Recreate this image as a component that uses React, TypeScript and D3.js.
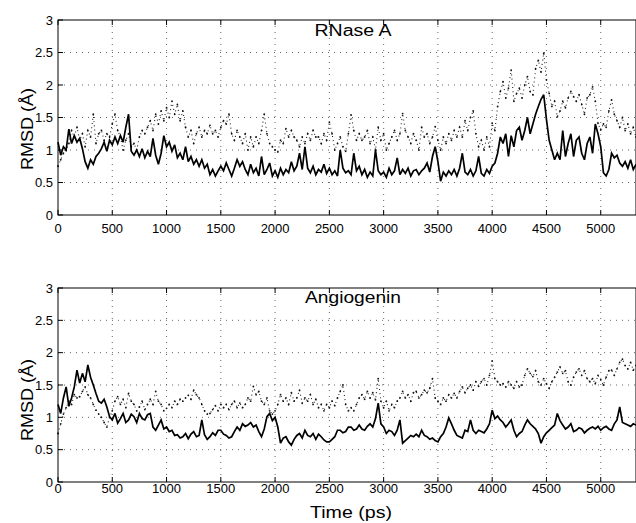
import React from "react";
import * as d3 from "d3";

// sampling step of the time series (ps)
const STEP = 25;

// RNase A – solid trace (t = 0, 25, 50, ...)
const rnaseSolid = [
  1.12, 0.92, 1.05, 1.0, 1.32, 1.1, 1.22, 1.12, 1.18, 1.02, 0.82, 0.72, 0.85, 0.78, 0.9, 0.95,
  1.02, 1.12, 0.98, 1.15, 1.08, 1.2, 1.1, 1.22, 1.12, 1.35, 1.55, 0.98, 0.92, 1.0, 0.9, 1.02,
  0.88, 0.98, 0.9, 1.18, 0.92, 0.78, 0.95, 1.22,
  1.05, 1.12, 0.98, 1.08, 0.88, 0.95, 0.85, 1.05, 0.82, 0.9, 0.78, 0.85, 0.75, 0.85, 0.72, 0.78,
  0.62, 0.7, 0.6, 0.68, 0.75, 0.68, 0.8, 0.7, 0.6, 0.72, 0.85, 0.75, 0.82, 0.7, 0.62, 0.78,
  0.65, 0.72, 0.6, 0.9, 0.62, 0.7, 0.8, 0.6,
  0.68, 0.58, 0.72, 0.62, 0.7, 0.65, 0.82, 0.68, 0.75, 0.95, 0.7, 1.05, 0.72, 0.65, 0.75, 0.62,
  0.7, 0.66, 0.78, 0.64, 0.72, 0.62, 0.68, 0.6, 1.0, 0.72, 0.65, 0.68, 0.62, 0.95, 0.68, 0.75,
  0.62, 0.7, 0.58, 0.66, 0.6, 1.0, 0.68, 0.62,
  0.66, 0.58, 0.72, 0.62, 0.68, 0.88, 0.62, 0.7, 0.64, 0.72, 0.6, 0.68, 0.7, 0.62, 0.68, 0.72,
  0.8, 0.66, 0.9, 1.05, 0.82, 0.52, 0.66, 0.6, 0.68, 0.62, 0.7, 0.6, 0.72, 0.95, 0.66, 0.62,
  0.7, 0.6, 0.68, 0.9, 0.64, 0.6, 0.7, 0.64,
  0.75, 0.8, 0.95, 1.2, 1.1, 1.25, 0.9, 1.22, 1.05, 1.3, 1.35, 1.15, 1.3, 1.5, 1.25, 1.4,
  1.55, 1.67, 1.78, 1.85, 1.47, 1.15, 1.0, 0.85, 0.95, 0.85, 1.3, 0.9, 1.1, 1.25, 0.9, 1.15,
  1.2, 0.95, 0.85, 1.1, 1.2, 0.95, 1.4, 1.25,
  1.05, 0.65, 0.6, 0.7, 0.95, 0.88, 0.92, 0.8, 0.75, 0.82, 0.72, 0.85, 0.7, 0.78,
];

// RNase A – dotted trace
const rnaseDotted = [
  0.75, 0.85, 0.95, 1.0, 1.1, 1.3, 1.2, 1.35, 1.15, 1.25, 1.05, 1.3, 1.2, 1.55, 1.1, 1.25,
  1.3, 1.15, 1.25, 1.2, 1.4, 1.55, 1.3, 1.2, 1.0, 1.15, 1.25, 1.05, 1.1, 1.0, 1.2, 1.3,
  1.25, 1.35, 1.45, 1.3, 1.55, 1.4, 1.6, 1.45,
  1.65, 1.5, 1.75, 1.55, 1.7, 1.45, 1.6, 1.35, 1.2, 1.3, 1.1, 1.25, 1.35, 1.2, 1.3, 1.25,
  1.38, 1.25, 1.3, 1.2, 1.35, 1.45, 1.4, 1.55, 1.25, 1.15, 1.3, 1.2, 1.1, 1.25, 1.0, 1.2,
  1.05, 1.2, 1.1, 1.3, 1.55, 1.25, 1.1, 1.05,
  1.0, 0.97, 1.15, 1.1, 1.33, 1.2, 1.3, 1.2, 1.15, 1.05, 1.2, 1.1, 1.25, 1.15, 1.3, 1.2,
  1.2, 1.1, 1.25, 1.15, 1.43, 1.25, 1.0, 1.1, 1.2, 1.05, 0.98, 1.25, 1.54, 1.3, 1.15, 1.25,
  1.15, 1.2, 1.3, 1.1, 1.2, 1.0, 1.35, 1.15,
  1.25, 1.0, 1.1, 1.2, 1.3, 1.15, 1.25, 1.56, 1.3, 1.2, 1.1, 1.25, 1.15, 1.0, 1.35, 1.2,
  1.25, 1.1, 1.2, 1.36, 1.15, 1.0, 1.2, 1.1, 1.25, 1.15, 1.3, 1.2, 1.35, 1.2, 1.45, 1.3,
  1.5, 1.6, 1.25, 1.05, 1.15, 1.0, 1.2, 1.05,
  1.41, 1.3, 1.67, 1.9, 2.05, 1.8, 1.95, 2.23, 1.75, 1.87, 1.95, 1.8, 2.0, 2.13, 1.9, 1.85,
  2.25, 2.38, 2.2, 2.49, 2.08, 1.87, 1.67, 1.75, 1.51, 1.6, 1.75, 1.65, 1.8, 1.9, 1.82, 1.75,
  1.85, 1.7, 1.55, 1.8, 1.85, 1.97, 1.75, 1.41,
  1.31, 1.4, 1.35, 1.6, 1.77, 1.55, 1.45, 1.35, 1.5, 1.3, 1.4, 1.25, 1.35, 1.2,
];

// Angiogenin – solid trace
const angSolid = [
  1.2, 1.06, 1.3, 1.47, 1.17, 1.3, 1.47, 1.73, 1.53, 1.68, 1.55, 1.81, 1.62, 1.5, 1.37, 1.25,
  1.22, 1.28, 1.16, 1.01, 0.96, 1.06, 0.91, 0.98, 1.06, 0.92, 0.96, 1.05, 1.01, 0.92, 1.06, 0.98,
  0.96, 1.04, 1.06, 0.85, 0.8, 0.88, 0.96, 0.82,
  0.85, 0.78, 0.8, 0.72, 0.73, 0.68, 0.7, 0.75, 0.67, 0.74, 0.78, 0.7, 0.72, 0.96, 0.73, 0.66,
  0.7, 0.76, 0.72, 0.8, 0.8, 0.74, 0.72, 0.68, 0.7, 0.78, 0.85, 0.8, 0.9, 0.86, 0.88, 0.92,
  0.85, 0.88, 0.78, 0.7, 0.82, 1.01, 1.06, 0.95,
  1.0, 0.85, 0.6, 0.68, 0.7, 0.62, 0.57, 0.66, 0.72, 0.75, 0.68, 0.8, 0.72, 0.7, 0.75, 0.66,
  0.74, 0.7, 0.65, 0.62, 0.62, 0.66, 0.7, 0.8, 0.8, 0.76, 0.78, 0.85, 0.85, 0.8, 0.82, 0.88,
  0.82, 0.8, 0.86, 0.9, 0.85, 0.98, 1.22, 0.9,
  0.85, 0.75, 0.8, 0.78, 0.72, 0.8, 0.96, 0.6, 0.64, 0.68, 0.72, 0.7, 0.74, 0.7, 0.8, 0.72,
  0.7, 0.66, 0.68, 0.64, 0.62, 0.7, 0.75, 0.85, 0.99, 0.9, 0.8, 0.72, 0.7, 0.68, 0.8, 0.78,
  0.96, 0.8, 0.75, 0.8, 0.78, 0.76, 0.82, 0.9,
  1.11, 0.98, 1.02, 0.96, 0.92, 0.85, 0.9, 0.96, 0.8, 0.7, 0.75, 0.78, 0.88, 0.96, 0.9, 0.86,
  0.82, 0.75, 0.6, 0.7, 0.76, 0.8, 0.84, 0.88, 1.06, 0.95, 0.88, 0.82, 0.85, 0.9, 0.78, 0.8,
  0.84, 0.82, 0.76, 0.8, 0.83, 0.85, 0.82, 0.86,
  0.8, 0.84, 0.86, 0.82, 0.8, 0.9, 0.96, 1.16, 0.92, 0.9, 0.88, 0.86, 0.9, 0.88,
];

// Angiogenin – dotted trace
const angDotted = [
  0.75, 0.9, 1.05, 1.15, 1.25, 1.2, 1.35, 1.3, 1.32, 1.4, 1.47, 1.35, 1.3, 1.2, 1.11, 1.05,
  1.0, 0.92, 0.85, 1.0, 1.1, 1.25, 1.32, 1.2, 1.28, 1.15, 1.37, 1.25, 1.2, 1.1, 1.16, 1.25,
  1.12, 1.2, 1.28, 1.2, 1.4, 1.25, 1.2, 1.1,
  1.14, 1.2, 1.15, 1.25, 1.2, 1.28, 1.25, 1.3, 1.34, 1.28, 1.42, 1.35, 1.3, 1.2, 1.1, 1.05,
  1.06, 1.12, 1.18, 1.1, 1.2, 1.15, 1.2, 1.12, 1.2, 1.25, 1.15, 1.22, 1.15, 1.2, 1.3, 1.25,
  1.48, 1.35, 1.4, 1.25, 1.2, 1.3, 1.1, 1.05,
  1.1, 1.2, 1.35, 1.25, 1.3, 1.2, 1.38, 1.25, 1.3, 1.42, 1.22, 1.3, 1.25, 1.35, 1.2, 1.28,
  1.15, 1.2, 1.1, 1.2, 1.15, 1.25, 1.18, 1.3, 1.4, 1.5, 1.2, 1.1, 1.15, 1.1, 1.2, 1.3,
  1.35, 1.28, 1.4, 1.3, 1.38, 1.27, 1.6, 1.25,
  1.15, 1.25, 1.1, 1.2, 1.15, 1.25, 1.3, 1.4, 1.3, 1.35, 1.25, 1.38, 1.4, 1.3, 1.35, 1.42,
  1.38, 1.45, 1.6, 1.3, 1.25, 1.2, 1.3, 1.25, 1.35, 1.3, 1.37, 1.3, 1.4, 1.47, 1.38, 1.45,
  1.5, 1.42, 1.55, 1.48, 1.55, 1.6, 1.5, 1.65,
  1.87, 1.6, 1.55, 1.5, 1.52, 1.47, 1.55, 1.5, 1.45, 1.55, 1.47, 1.5, 1.65, 1.75, 1.68, 1.63,
  1.72, 1.55, 1.5, 1.6, 1.52, 1.45, 1.55, 1.62, 1.7, 1.78, 1.68, 1.72, 1.55, 1.5, 1.62, 1.7,
  1.75, 1.65, 1.72, 1.6, 1.55, 1.6, 1.52, 1.65,
  1.58, 1.5, 1.62, 1.72, 1.73, 1.65, 1.75, 1.85, 1.9, 1.8, 1.75, 1.85, 1.73, 1.8,
];

const xTicks = [0, 500, 1000, 1500, 2000, 2500, 3000, 3500, 4000, 4500, 5000];
const yTicks = [0, 0.5, 1, 1.5, 2, 2.5, 3];
const panelTitles = ["RNase A", "Angiogenin"];
const xAxisTitle = "Time (ps)";
const yAxisTitle = "RMSD (Å)";

const W = 636;
const H = 523;
const FONT = "'Liberation Sans', Arial, Helvetica, sans-serif";
const X_MAX = 5325;

type PanelProps = {
  top: number;
  bottom: number;
  solid: number[];
  dotted: number[];
  title: string;
  titleY: number;
  titleLen: number;
  ylabelY: number;
  tickLabelY: number;
};

function Panel({ top, bottom, solid, dotted, title, titleY, titleLen, ylabelY, tickLabelY }: PanelProps) {
  const x = d3.scaleLinear().domain([0, X_MAX]).range([58, 636]);
  const y = d3.scaleLinear().domain([0, 3]).range([bottom, top]);
  const line = d3
    .line<number>()
    .x((_, i) => x(i * STEP))
    .y((d) => y(d));
  const left = x(0);
  const right = x(X_MAX);
  return (
    <g>
      {/* grid */}
      {xTicks.slice(1).map((t) => (
        <line key={"gx" + t} x1={x(t)} x2={x(t)} y1={top} y2={bottom} stroke="#555" strokeWidth={0.9} strokeDasharray="1 5" />
      ))}
      {yTicks.slice(1, -1).map((v) => (
        <line key={"gy" + v} x1={left} x2={right} y1={y(v)} y2={y(v)} stroke="#555" strokeWidth={0.9} strokeDasharray="1 5" />
      ))}
      {/* dotted series */}
      <path d={line(dotted) || ""} fill="none" stroke="#222" strokeWidth={1.1} strokeDasharray="1 3.2" />
      {dotted.map((d, i) => (
        <circle key={"d" + i} cx={x(i * STEP)} cy={y(d)} r={0.9} fill="#111" />
      ))}
      {/* solid series */}
      <path d={line(solid) || ""} fill="none" stroke="#000" strokeWidth={1.7} strokeLinejoin="miter" strokeMiterlimit={3} />
      {/* frame */}
      <rect x={left} y={top} width={right - left} height={bottom - top} fill="none" stroke="#000" strokeWidth={1} />
      {/* ticks */}
      {xTicks.map((t) => (
        <g key={"tx" + t}>
          <line x1={x(t)} x2={x(t)} y1={bottom} y2={bottom - 5} stroke="#000" />
          <line x1={x(t)} x2={x(t)} y1={top} y2={top + 5} stroke="#000" />
          <text x={x(t)} y={tickLabelY} textAnchor="middle" fontSize={13} fontFamily={FONT} fill="#000">
            {t}
          </text>
        </g>
      ))}
      {yTicks.map((v) => (
        <g key={"ty" + v}>
          <line x1={left} x2={left + 5} y1={y(v)} y2={y(v)} stroke="#000" />
          <text x={53} y={y(v)} dy="0.36em" textAnchor="end" fontSize={13} fontFamily={FONT} fill="#000">
            {String(v)}
          </text>
        </g>
      ))}
      {/* title */}
      <text x={353} y={titleY} textAnchor="middle" fontSize={16} fontFamily={FONT} fill="#000" textLength={titleLen} lengthAdjust="spacingAndGlyphs">
        {title}
      </text>
      {/* y label */}
      <text
        transform={`translate(33,${ylabelY}) rotate(-90)`}
        textAnchor="middle"
        fontSize={17}
        fontFamily={FONT}
        fill="#000"
        textLength={82}
        lengthAdjust="spacingAndGlyphs"
      >
        {yAxisTitle}
      </text>
    </g>
  );
}

export default function App() {
  return (
    <svg
      width={W}
      height={H}
      viewBox={`0 0 ${W} ${H}`}
      style={{ position: "absolute", left: 0, top: 0, background: "#fff" }}
    >
      <rect x={0} y={0} width={W} height={H} fill="#fff" />
      <Panel top={20} bottom={215} solid={rnaseSolid} dotted={rnaseDotted} title={panelTitles[0]} titleY={36} titleLen={77} ylabelY={129} tickLabelY={233} />
      <Panel top={288} bottom={482} solid={angSolid} dotted={angDotted} title={panelTitles[1]} titleY={303} titleLen={96} ylabelY={400} tickLabelY={493} />
      <text x={351} y={518} textAnchor="middle" fontSize={17} fontFamily={FONT} fill="#000" textLength={82} lengthAdjust="spacingAndGlyphs">
        {xAxisTitle}
      </text>
    </svg>
  );
}
